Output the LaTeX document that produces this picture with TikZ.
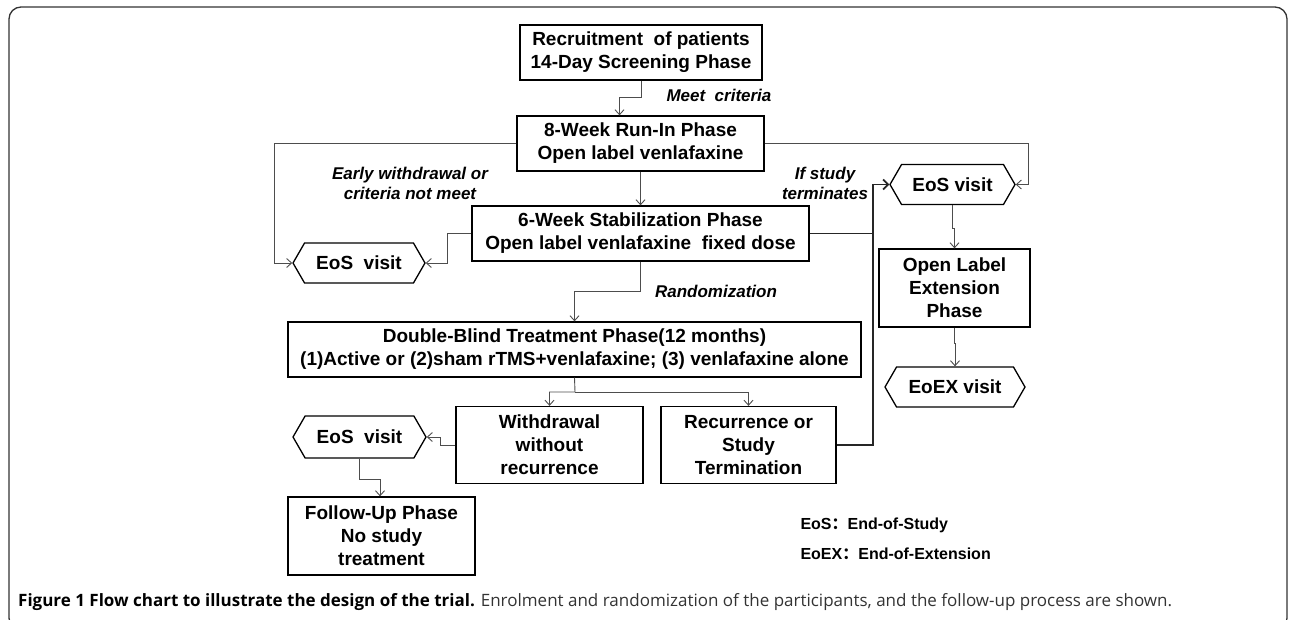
\documentclass[tikz,border=0pt]{standalone}
\usepackage{fontspec}
\setmainfont{Liberation Sans}
\newfontfamily\capfont{Open Sans}
\newfontfamily\cjk{Noto Sans CJK SC}
\usetikzlibrary{shapes.symbols, arrows.meta}
\definecolor{linegray}{HTML}{4D4D4D}
\definecolor{capgray}{HTML}{333333}

\begin{document}
\begin{tikzpicture}[x=1pt, y=-1pt,
    box/.style={draw, line width=1.3pt, inner sep=0pt, align=center,
      font=\fontsize{19}{23}\selectfont\bfseries},
    visit/.style={draw, line width=1.3pt, signal, signal to=west and east,
      signal pointer angle=120, minimum height=40pt, inner sep=0pt,
      font=\fontsize{19}{23}\selectfont\bfseries},
    conn/.style={draw=linegray, line width=0.9pt, -{Straight Barb[length=5pt,width=9pt]}},
    thickconn/.style={draw=black!85, line width=1.7pt},
    cue/.style={align=center, font=\fontsize{17}{20}\selectfont\bfseries\itshape}]
  \useasboundingbox (0,0) rectangle (1290,619);
  \draw[line width=1.3pt, rounded corners=12pt, draw=black!80] (9,7) rectangle (1287,630);

  \node[box, minimum width=242pt, minimum height=55pt] (recruit) at (641,52.5) {Recruitment\ \ of patients\\14-Day Screening Phase};
  \node[box, minimum width=247pt, minimum height=55pt] (runin) at (640.5,143.5) {8-Week Run-In Phase\\Open label venlafaxine};
  \node[box, minimum width=337pt, minimum height=55pt] (stab) at (640.5,233.5) {6-Week Stabilization Phase\\Open label venlafaxine\ \ fixed dose};
  \node[box, minimum width=573pt, minimum height=55pt] (blind) at (574.5,349.5) {Double-Blind Treatment Phase(12 months)\\(1)Active or (2)sham rTMS+venlafaxine; (3) venlafaxine alone};
  \node[box, minimum width=187pt, minimum height=77pt] (withdraw) at (549.5,445) {Withdrawal\\without\\recurrence};
  \node[box, minimum width=175pt, minimum height=77pt] (recur) at (748.5,445) {Recurrence or\\Study\\Termination};
  \node[box, minimum width=187pt, minimum height=78pt] (followup) at (381.5,536) {Follow-Up Phase\\No study\\treatment};
  \node[box, minimum width=151pt, minimum height=78pt] (extension) at (954.5,288) {Open Label\\Extension\\Phase};

  \node[visit, minimum width=132pt] (eosrun) at (359,263) {EoS\ \ visit};
  \node[visit, minimum width=125pt] (eosext) at (952.5,184.5) {EoS visit};
  \node[visit, minimum width=133pt, minimum height=42pt] (eosfollow) at (359.5,437) {EoS\ \ visit};
  \node[visit, minimum width=140pt] (eoex) at (955,387) {EoEX visit};

  \coordinate (merge) at (873,233.5);
  \coordinate (split) at (575,392);

  \draw[conn] (recruit.south) -- ++(0,17) -| ([xshift=-21pt]runin.north);
  \draw[conn] (runin) -- (stab);
  \draw[conn] (runin.west) -- ++(-242,0) |- (eosrun.west);
  \draw[conn] (stab.west) -- ++(-24,0) |- (eosrun.east);
  \draw[conn] (stab.south) -- ++(0,30) -| (blind.north);
  \draw[conn] (blind.south) -- (split) -| (withdraw.north);
  \draw[conn] (split) -| (recur.north);
  \draw[conn] (withdraw.west) -- ++(-15,0) |- (eosfollow.east);
  \draw[conn] (eosfollow.south) -- ++(0,21) -| ([xshift=-1.5pt]followup.north);
  \draw[thickconn, -{Straight Barb[length=5pt,width=10pt]}] (recur.east) -| (merge) |- (eosext.west);
  \draw[thickconn] (stab.east) -- (merge);
  \draw[conn] (runin.east) -- ++(264,0) |- (eosext.east);
  \draw[conn] (eosext.south) -- ++(0,23) -| (extension.north);
  \draw[conn] (extension.south) -- ++(0,16) -| (eoex.north);

  \node[cue] (meet) at (719,95) {Meet\ \ criteria};
  \node[cue] (early) at (410,183) {Early withdrawal or\\criteria not meet};
  \node[cue] (terminate) at (825,183) {If study\\terminates};
  \node[cue] (random) at (716,291) {Randomization};

  \node[anchor=west, font=\fontsize{16}{20}\selectfont\bfseries] (legeos) at (797,525) {EoS{\cjk ：}End-of-Study};
  \node[anchor=west, font=\fontsize{16}{20}\selectfont\bfseries] (legeoex) at (797,554) {EoEX{\cjk ：}End-of-Extension};

  \node[anchor=west, inner sep=0pt, font=\capfont\fontsize{17}{20}\selectfont] (caption) at (18,602)
    {\textbf{Figure 1 Flow chart to illustrate the design of the trial.} {\color{capgray}Enrolment and randomization of the participants, and the follow-up process are shown.}};
\end{tikzpicture}
\end{document}
